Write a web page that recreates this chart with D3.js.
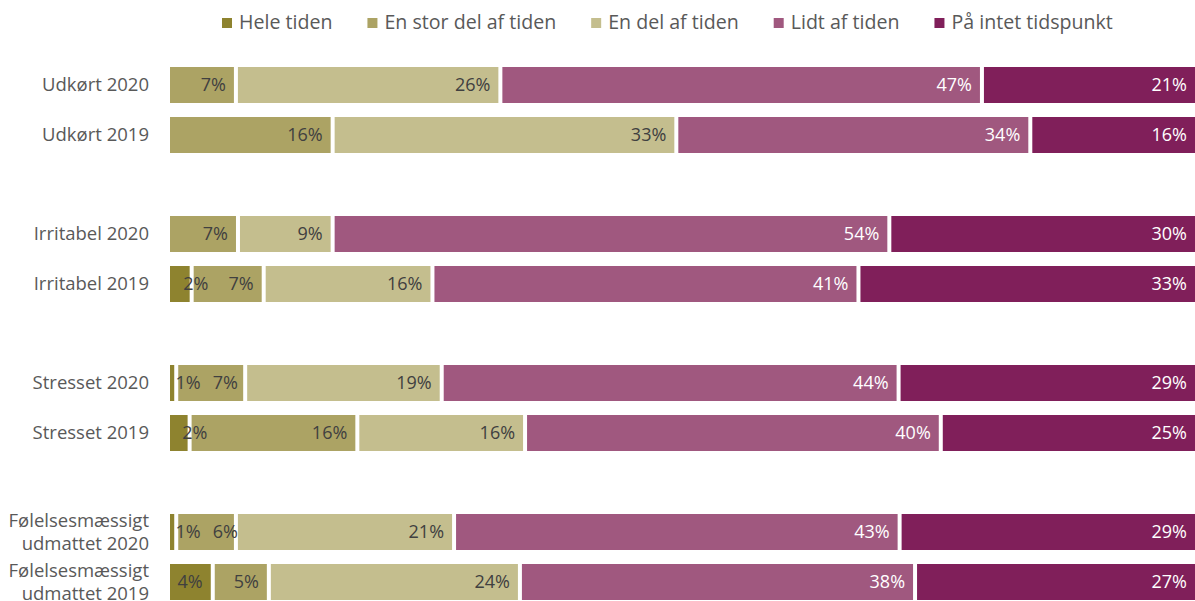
<!DOCTYPE html>
<html>
<head>
<meta charset="utf-8">
<script src="https://cdn.jsdelivr.net/npm/d3@7"></script>
<style>
  html, body { margin: 0; padding: 0; background: #fff; }
  svg { display: block; }
  text { font-family: "Open Sans", sans-serif; }
</style>
</head>
<body>
<svg id="chart" width="1195" height="601"></svg>
<script>
// ---- data ----
const groups = ["Udkørt", "Irritabel", "Stresset", "Følelsesmæssigt udmattet"];
const years = ["2020", "2019"];
const categories = ["Udkørt 2020", "Udkørt 2019", "Irritabel 2020", "Irritabel 2019",
  "Stresset 2020", "Stresset 2019", "Følelsesmæssigt udmattet 2020", "Følelsesmæssigt udmattet 2019"];
const seriesNames = ["Hele tiden", "En stor del af tiden", "En del af tiden", "Lidt af tiden", "På intet tidspunkt"];
const heleTiden = [0, 0, 0, 2.3, 0.8, 2.1, 0.8, 4.35];
const enStorDel = [6.6, 16.0, 6.8, 7.0, 6.7, 16.3, 5.8, 5.45];
const enDel     = [25.7, 33.4, 9.2, 16.4, 19.1, 16.3, 21.2, 24.4];
const lidt      = [46.8, 34.4, 54.1, 41.4, 44.4, 40.4, 43.3, 38.4];
const paaIntet  = [20.9, 16.2, 29.9, 32.9, 29.0, 24.9, 28.9, 27.4];
const seriesValues = [heleTiden, enStorDel, enDel, lidt, paaIntet];
const colors = ["#8e832f", "#aca364", "#c4be8e", "#a0587f", "#801f5a"];
const labelColors = ["#404040", "#404040", "#404040", "#ffffff", "#ffffff"];

// ---- layout ----
const svg = d3.select("#chart");
const x = d3.scaleLinear().domain([0, 100]).range([168, 1197]);
const yGroup = d3.scaleBand().domain(groups).range([67, 67 + 4 * 149]);
const yYear = d3.scaleBand().domain(years).range([0, 86]).paddingInner(0.28).paddingOuter(0);
const bh = yYear.bandwidth();

const rows = categories.map((c, i) => {
  const g = groups.find(gr => c.startsWith(gr));
  const yr = years.find(y => c.endsWith(y));
  const y = yGroup(g) + yYear(yr);
  let acc = 0;
  const segs = seriesValues.map((arr, s) => {
    const v = arr[i];
    const seg = { s, v, x0: acc, x1: acc + v };
    acc += v;
    return seg;
  }).filter(d => d.v > 0);
  return { c, y, segs };
});

const gap = 2;
const rowG = svg.append("g").selectAll("g").data(rows).join("g")
  .attr("transform", d => `translate(0,${d.y})`);

rowG.selectAll("rect").data(d => d.segs).join("rect")
  .attr("x", d => x(d.x0) + gap)
  .attr("width", d => Math.max(1, x(d.x1) - x(d.x0) - 2 * gap))
  .attr("y", 0)
  .attr("height", bh)
  .attr("fill", d => colors[d.s]);

// value labels with simple placement rules
rowG.each(function(row) {
  const g = d3.select(this);
  let prevEnd = -Infinity;
  row.segs.forEach(seg => {
    const t = g.append("text")
      .attr("y", bh / 2)
      .attr("dy", "0.35em")
      .attr("text-anchor", "end")
      .attr("font-size", 18)
      .attr("fill", labelColors[seg.s])
      .text(Math.round(seg.v) + "%");
    const w = t.node().getComputedTextLength();
    const segW = x(seg.x1) - x(seg.x0);
    let end;
    if (w + 14 > segW) {
      end = (x(seg.x0) + x(seg.x1)) / 2 + 16 + w / 2;
    } else {
      end = x(seg.x1) - 10;
    }
    if (end - w < prevEnd + 12) end = prevEnd + 12 + w;
    t.attr("x", end);
    prevEnd = end;
  });
});

// category labels
rowG.each(function(row) {
  const g = d3.select(this);
  const t = g.append("text")
    .attr("text-anchor", "end")
    .attr("font-size", 18.5)
    .attr("fill", "#595959");
  let lines = [row.c];
  t.text(row.c);
  if (t.node().getComputedTextLength() > 140) {
    const k = row.c.indexOf(" ");
    lines = [row.c.slice(0, k), row.c.slice(k + 1)];
  }
  t.text(null);
  const lh = 23;
  lines.forEach((ln, j) => {
    t.append("tspan")
      .attr("x", 149)
      .attr("y", bh / 2 + (j - (lines.length - 1) / 2) * lh)
      .attr("dy", "0.35em")
      .text(ln);
  });
});

// legend
const legend = svg.append("g");
let lx = 222;
seriesNames.forEach((name, i) => {
  legend.append("rect").attr("x", lx).attr("y", 18).attr("width", 10).attr("height", 10).attr("fill", colors[i]);
  const t = legend.append("text").attr("x", lx + 17).attr("y", 22).attr("dy", "0.35em")
    .attr("font-size", 19.6).attr("fill", "#595959").text(name);
  lx += 17 + t.node().getComputedTextLength() + 35;
});
</script>
</body>
</html>
